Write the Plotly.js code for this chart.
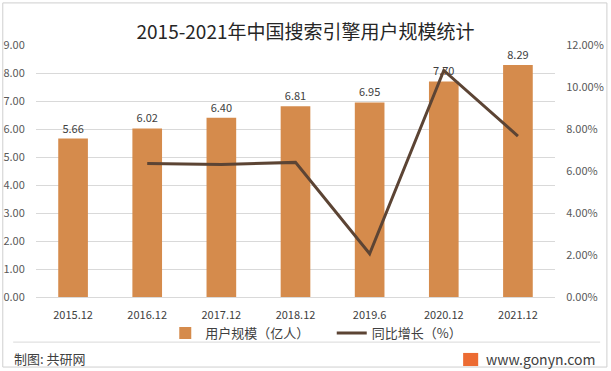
<!DOCTYPE html>
<html><head><meta charset="utf-8">
<script src="https://cdn.plot.ly/plotly-3.0.1.min.js"></script>
<style>html,body{margin:0;padding:0;background:#fff}#c{width:611px;height:371px}</style>
</head><body><div id="c"></div>
<script>
const categories = ["2015.12","2016.12","2017.12","2018.12","2019.6","2020.12","2021.12"];
const users = [5.66, 6.02, 6.40, 6.81, 6.95, 7.70, 8.29];
const growthCats = ["2016.12","2017.12","2018.12","2019.6","2020.12","2021.12"];
const growth = [6.36, 6.31, 6.41, 2.06, 10.79, 7.66];
const leftTicks = [0,1,2,3,4,5,6,7,8,9];
const rightTicks = [0,2,4,6,8,10,12];

const F = '"Microsoft YaHei","Noto Sans CJK SC","Noto Sans",sans-serif';
const T = 'rgba(0,0,0,0)';
const traces = [
  {type:'bar', x:categories, y:users, name:'用户规模（亿人）\u00a0\u00a0\u00a0\u00a0\u00a0\u00a0',
   marker:{color:'#D58B4C'}, width:0.4,
   text:users.map(v=>v.toFixed(2)), textposition:'outside', cliponaxis:false,
   textfont:{size:11,color:'#404040',family:F}},
  {type:'scatter', mode:'lines', x:growthCats, y:growth, yaxis:'y2', name:'同比增长（%）',
   line:{color:'#5C4434', width:3}}
];
const layout = {
  width:611, height:371, margin:{l:36,r:56,t:45,b:74},
  paper_bgcolor:'#fff', plot_bgcolor:'#fff',
  font:{family:F, size:11, color:'#595959'},
  title:{text:'2015-2021年中国搜索引擎用户规模统计', x:0.5, xanchor:'center', y:0.914, yanchor:'middle',
         font:{size:19,color:'#262626',family:F}},
  showlegend:true,
  legend:{orientation:'h', x:0.54, xanchor:'center', y:-0.143, yanchor:'middle', bgcolor:T,
          font:{size:13,color:'#404040',family:F}, traceorder:'normal', itemwidth:30},
  xaxis:{type:'category', showline:true, linecolor:'#D9D9D9', ticks:'outside', ticklen:8, tickcolor:T,
         tickfont:{size:11,color:'#404040'}},
  yaxis:{range:[0,9], tickvals:leftTicks, ticktext:leftTicks.map(v=>v.toFixed(2)), showgrid:true,
         gridcolor:'#D9D9D9', zeroline:false, ticks:'outside', ticklen:8, tickcolor:T,
         tickfont:{size:11,color:'#595959'}},
  yaxis2:{range:[0,12], overlaying:'y', side:'right', tickvals:rightTicks,
          ticktext:rightTicks.map(v=>v.toFixed(2)+'%'), showgrid:false, zeroline:false,
          ticks:'outside', ticklen:8, tickcolor:T, tickfont:{size:11,color:'#595959'}},
  bargap:0.6,
  shapes:[
    {type:'line', xref:'paper', yref:'paper', x0:-0.044, x1:1.087, y0:-0.179, y1:-0.179, line:{color:'#D9D9D9',width:1}},
    {type:'rect', xref:'paper', yref:'paper', x0:-0.064, x1:1.100, y0:-0.278, y1:1.167, line:{color:'#CFCFCF',width:1}},
    {type:'rect', xref:'paper', yref:'paper', x0:0.823, x1:0.852, y0:-0.274, y1:-0.222, fillcolor:'#EC6B32', line:{width:0}}
  ],
  annotations:[
    {text:'制图: 共研网', xref:'paper', yref:'paper', x:-0.046, y:-0.246, xanchor:'left', yanchor:'middle',
     showarrow:false, font:{size:13,color:'#404040',family:F}},
    {text:'www.gonyn.com', xref:'paper', yref:'paper', x:1.081, y:-0.246, xanchor:'right', yanchor:'middle',
     showarrow:false, font:{size:14,color:'#404040',family:F}}
  ]
};
Plotly.newPlot('c', traces, layout, {displayModeBar:false, staticPlot:true});
</script></body></html>
